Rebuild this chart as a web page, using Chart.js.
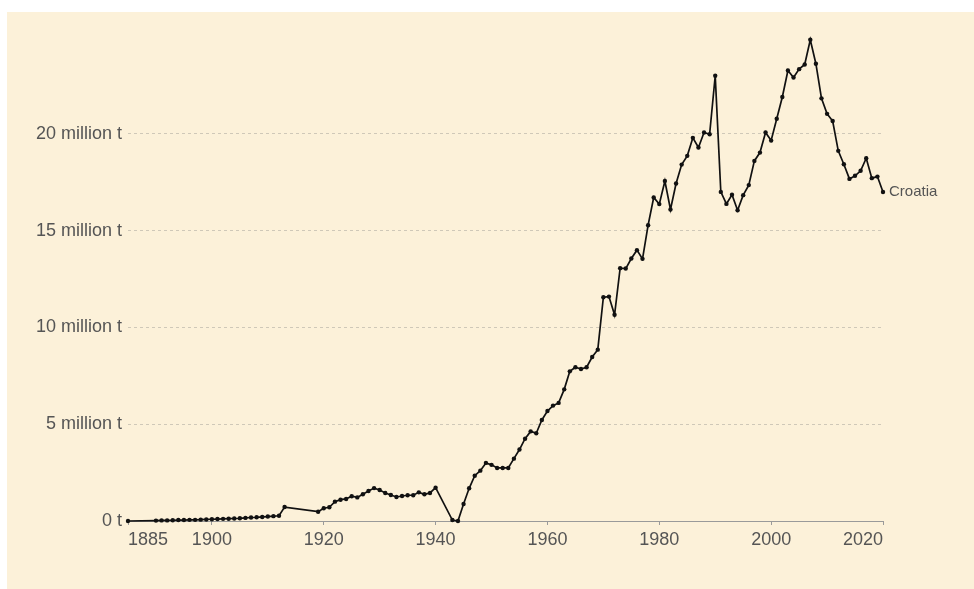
<!DOCTYPE html>
<html lang="en">
<head>
<meta charset="UTF-8">
<title>Croatia</title>
<script src="https://cdn.jsdelivr.net/npm/chart.js@4.4.0/dist/chart.umd.min.js"></script>
<style>
    *{ margin:0; padding:0; box-sizing:border-box; }
    body{ background:#fff; width:974px; height:589px; overflow:hidden; }
    #panel{
        position:absolute; left:7px; top:12px;
        width:967px; height:577px;
        background:#fcf1d9;
    }
</style>
</head>
<body>
<div id="panel"><canvas id="mycanvas" width="967" height="577"></canvas></div>
<script>
// 연도 (1914-1918, 1941-1942 없음)
const years = [1885,
    1890,1891,1892,1893,1894,1895,1896,1897,1898,1899,
    1900,1901,1902,1903,1904,1905,1906,1907,1908,1909,
    1910,1911,1912,1913,
    1919,1920,1921,1922,1923,1924,1925,1926,1927,1928,1929,
    1930,1931,1932,1933,1934,1935,1936,1937,1938,1939,1940,
    1943,1944,1945,1946,1947,1948,1949,
    1950,1951,1952,1953,1954,1955,1956,1957,1958,1959,
    1960,1961,1962,1963,1964,1965,1966,1967,1968,1969,
    1970,1971,1972,1973,1974,1975,1976,1977,1978,1979,
    1980,1981,1982,1983,1984,1985,1986,1987,1988,1989,
    1990,1991,1992,1993,1994,1995,1996,1997,1998,1999,
    2000,2001,2002,2003,2004,2005,2006,2007,2008,2009,
    2010,2011,2012,2013,2014,2015,2016,2017,2018,2019,
    2020];
// 백만 톤 단위
const emissions = [0.0,
    0.02,0.03,0.03,0.04,0.05,0.05,0.06,0.06,0.07,0.08,
    0.09,0.10,0.11,0.12,0.13,0.14,0.16,0.18,0.19,0.21,
    0.23,0.25,0.27,0.72,
    0.48,0.66,0.71,1.00,1.10,1.14,1.28,1.22,1.38,1.55,1.70,
    1.60,1.45,1.34,1.24,1.29,1.33,1.33,1.48,1.38,1.45,1.72,
    0.05,0.0,0.88,1.69,2.34,2.60,3.00,
    2.90,2.74,2.74,2.74,3.22,3.69,4.25,4.63,4.53,5.22,
    5.68,5.96,6.10,6.80,7.73,7.94,7.85,7.94,8.47,8.85,
    11.56,11.59,10.65,13.06,13.04,13.56,13.99,13.54,15.28,16.71,
    16.37,17.56,16.09,17.43,18.41,18.86,19.79,19.29,20.07,19.98,
    23.00,17.00,16.38,16.85,16.05,16.83,17.35,18.60,19.03,20.07,
    19.65,20.78,21.90,23.27,22.91,23.34,23.58,24.86,23.62,21.83,
    21.03,20.66,19.12,18.43,17.67,17.83,18.09,18.74,17.71,17.79,
    16.99];
const xTicks = [1885,1900,1920,1940,1960,1980,2000,2020];
const yTicks = [0,5,10,15,20];
const seriesName = "Croatia";

const textColor = "#555";
const fontFamily = "'Liberation Sans', Arial, sans-serif";

// 마지막 점 옆에 나라 이름
const endLabel = {
    id:"endLabel",
    afterDatasetsDraw(chart){
        const meta = chart.getDatasetMeta(0);
        const last = meta.data[meta.data.length-1];
        const ctx = chart.ctx;
        ctx.save();
        ctx.font = "15px " + fontFamily;
        ctx.fillStyle = textColor;
        ctx.textAlign = "left";
        ctx.textBaseline = "middle";
        ctx.fillText(chart.data.datasets[0].label, last.x + 6, last.y);
        ctx.restore();
    }
};

const points = years.map((y,i) => ({x:y, y:emissions[i]}));

new Chart(document.getElementById("mycanvas"), {
    type:"line",
    plugins:[endLabel],
    data:{
        datasets:[{
            label:seriesName,
            data:points,
            borderColor:"#111",
            backgroundColor:"#111",
            borderWidth:1.7,
            pointRadius:2.2,
            pointHoverRadius:2.2,
            pointBorderWidth:0,
            tension:0,
            clip:false
        }]
    },
    options:{
        responsive:false,
        animation:false,
        events:[],
        layout:{ padding:{ top:25, right:91, left:0, bottom:0 } },
        plugins:{ legend:{display:false}, tooltip:{enabled:false} },
        scales:{
            x:{
                type:"linear",
                min:1885, max:2020,
                afterBuildTicks(scale){ scale.ticks = xTicks.map(v => ({value:v})); },
                afterFit(scale){ scale.height = 68; },
                border:{ display:true, color:"#9a9a9a", width:1 },
                grid:{ drawOnChartArea:false, drawTicks:true, tickLength:4, color:"#9a9a9a" },
                ticks:{
                    align:"inner",
                    padding:4,
                    color:textColor,
                    font:{ family:fontFamily, size:18 },
                    maxRotation:0,
                    callback:v => String(v)
                }
            },
            y:{
                min:0, max:25,
                afterBuildTicks(scale){ scale.ticks = yTicks.map(v => ({value:v})); },
                afterFit(scale){ scale.width = 121; },
                border:{ display:false, dash:[3,3] },
                grid:{
                    drawTicks:false,
                    color:ctx => ctx.tick && ctx.tick.value === 0 ? "rgba(0,0,0,0)" : "#cfc8b8"
                },
                ticks:{
                    padding:6,
                    color:textColor,
                    font:{ family:fontFamily, size:18 },
                    callback:v => v === 0 ? "0 t" : v + " million t"
                }
            }
        }
    }
});
</script>
</body>
</html>
